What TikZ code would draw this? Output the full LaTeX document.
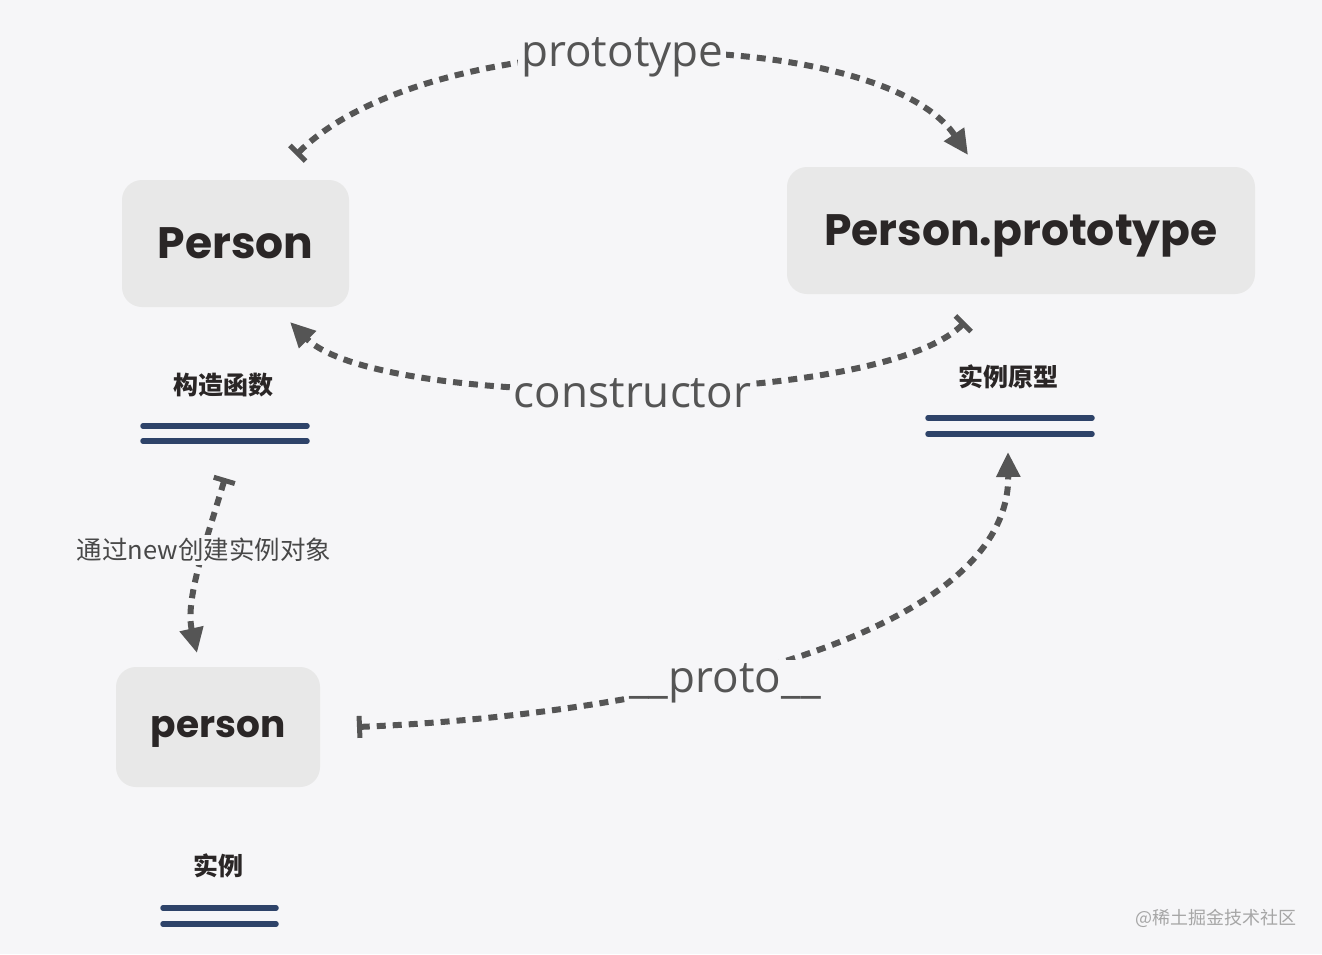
\documentclass[tikz,border=0pt]{standalone}
\usepackage{fontspec}
\usepackage{xcolor}
\setmainfont{Open Sans}
\newfontfamily\boxfont{Poppins}
\newfontfamily\cjk{Noto Sans CJK SC}
\usetikzlibrary{arrows.meta,calc}
\definecolor{bg}{HTML}{F6F6F8}
\definecolor{boxgray}{HTML}{E8E8E8}
\definecolor{linegray}{HTML}{555555}
\definecolor{navy}{HTML}{2E4369}
\definecolor{ink}{HTML}{2A2626}
\tikzset{
  box/.style={fill=boxgray, rounded corners=20pt, text=ink, text depth=0pt, font=\boxfont\bfseries\fontsize{44}{48}\selectfont},
  caption/.style={text=ink, font=\cjk\bfseries\fontsize{25}{28}\selectfont},
  rule/.style={navy, line width=5.5pt, line cap=round},
  link/.style={linegray, line width=6pt, dash pattern=on 9pt off 7pt,
    {Bar[width=22pt,line width=5pt]}-{Triangle[length=25pt,width=23pt]}},
  tag/.style={fill=bg, text=linegray, inner sep=3pt, font=\fontsize{44}{48}\selectfont}
}

\begin{document}
\begin{tikzpicture}[x=1pt,y=-1pt]
  \fill[bg] (0,0) rectangle (1322,954);
  \useasboundingbox (0,0) rectangle (1322,954);

  \node[box, minimum width=227pt, minimum height=127pt] (Person) at (235.5,243.5) {Person};
  \node[box, minimum width=468pt, minimum height=127pt] (Proto) at (1021,230.5) {Person.prototype};
  \node[box, minimum width=204pt, minimum height=120pt, font=\boxfont\bfseries\fontsize{37.5}{42}\selectfont] (person) at (218,727) {person};

  \node[caption] (ctor) at (223,385) {构造函数};
  \node[caption] (protoName) at (1008,377) {实例原型};
  \node[caption] (inst) at (218,866) {实例};

  \draw[rule] (143,426) -- (307,426) (143,441) -- (307,441);
  \draw[rule] (928,418) -- (1092,418) (928,434) -- (1092,434);
  \draw[rule] (163,908) -- (276,908) (163,924) -- (276,924);

  \coordinate (a1) at (296,155);
  \coordinate (a2) at (968,155);
  \coordinate (b1) at (965,322);
  \coordinate (b2) at (290,322);
  \coordinate (c1) at (225,478);
  \coordinate (c2) at (197,653);
  \coordinate (d1) at (357,727);
  \coordinate (d2) at (1008,452);

  \draw[link] (a1) .. controls (433,18) and (880,25) .. (a2)
    node[tag, midway, xshift=-28pt, yshift=-2pt] {prototype};
  \draw[link] (b1) .. controls (877,410) and (378,410) .. (b2)
    node[tag, midway, xshift=5pt, yshift=-5pt] {constructor};
  \draw[link] (c1) .. controls (205,545) and (185,600) .. (c2)
    node[tag, pos=0.38, text=linegray!85!black, font=\cjk\fontsize{25.5}{28}\selectfont] {通过new创建实例对象};
  \draw[link] (d1) .. controls (650,715) and (1010,640) .. (d2);
  \node[tag] (protoTag) at (725,683) {\_\_proto\_\_};

  \node[text=gray!70, font=\cjk\fontsize{18}{20}\selectfont] (mark) at (1216,918) {@稀土掘金技术社区};
\end{tikzpicture}
\end{document}
